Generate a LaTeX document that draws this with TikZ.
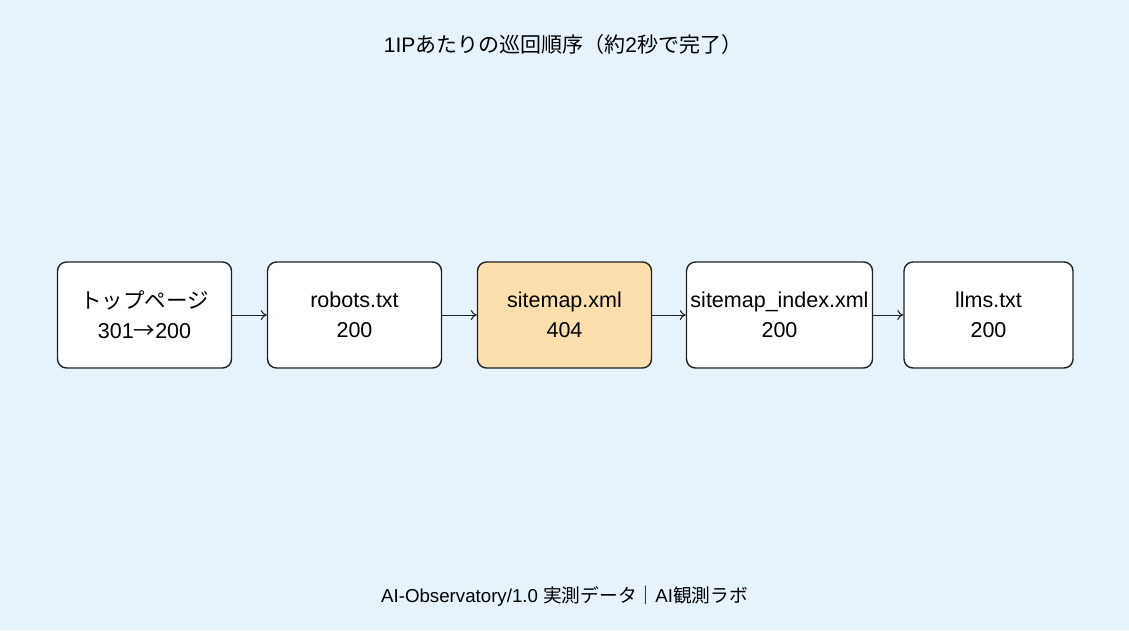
\documentclass[tikz,border=0pt]{standalone}
\usepackage{fontspec}
\setmainfont{Liberation Sans}
\newfontfamily\cjk{Noto Sans CJK JP}
\usetikzlibrary{arrows.meta}
\definecolor{bg}{HTML}{E6F3FC}
\definecolor{hl}{HTML}{FDDFAE}
\definecolor{ln}{HTML}{222222}
\begin{document}
\begin{tikzpicture}[x=1pt,y=-1pt,
  stepbox/.style={draw=ln,line width=1.4pt,rounded corners=9pt,fill=white,minimum height=106pt,inner sep=0pt,align=center,font=\fontsize{21.5}{30}\selectfont},
  conn/.style={draw=ln,line width=1pt,-{To[length=6pt,width=10pt]}}]
\fill[bg] (0,0) rectangle (1129,630);
\useasboundingbox (0,0) rectangle (1129,630);
\node[font=\fontsize{21}{25}\selectfont] (title) at (563,45) {1IP{\cjk あたりの巡回順序（約}2{\cjk 秒で完了）}};
\node[stepbox,minimum width=174pt] (a) at (144.5,315) {{\cjk トップページ}\\301{\cjk →}200};
\node[stepbox,minimum width=174pt] (b) at (354.5,315) {robots.txt\\200};
\node[stepbox,minimum width=174pt,fill=hl] (c) at (564.5,315) {sitemap.xml\\404};
\node[stepbox,minimum width=186pt] (d) at (779.5,315) {sitemap\_index.xml\\200};
\node[stepbox,minimum width=169pt] (e) at (988.5,315) {llms.txt\\200};
\draw[conn] (a) -- (b);
\draw[conn] (b) -- (c);
\draw[conn] (c) -- (d);
\draw[conn] (d) -- (e);
\node[font=\fontsize{18.7}{22}\selectfont] (foot) at (564.5,596) {AI-Observatory/1.0 {\cjk 実測データ｜}AI{\cjk 観測ラボ}};
\end{tikzpicture}
\end{document}
